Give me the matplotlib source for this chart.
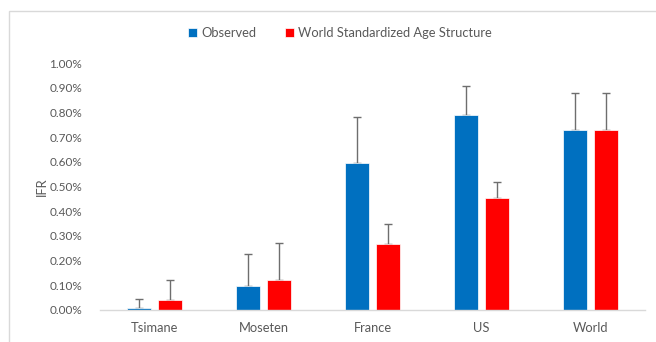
import matplotlib
matplotlib.use("Agg")
import matplotlib.pyplot as plt
from matplotlib.patches import Rectangle
import numpy as np

categories = ["Tsimane", "Moseten", "France", "US", "World"]
observed = [0.01, 0.096, 0.595, 0.79, 0.73]
observed_upper = [0.046, 0.225, 0.78, 0.907, 0.88]
standardized = [0.042, 0.123, 0.266, 0.453, 0.73]
standardized_upper = [0.12, 0.27, 0.35, 0.52, 0.88]
yticks = [0.0, 0.1, 0.2, 0.3, 0.4, 0.5, 0.6, 0.7, 0.8, 0.9, 1.0]

plt.rcParams["font.family"] = ["Lato", "DejaVu Sans"]

fig = plt.figure(figsize=(6.56, 3.42), dpi=100)
ax = fig.add_axes([100 / 656, 1 - 310 / 342, 545 / 656, 247 / 342])

# outer chart border
fig.patches.append(Rectangle((9 / 656, -0.05), 1.2, 1 - 10.5 / 342 + 0.05,
                             transform=fig.transFigure, fill=False,
                             edgecolor="#D9D9D9", linewidth=1.0))

x = np.arange(len(categories))
w = 0.22
off = 0.145
obs = np.array(observed)
std = np.array(standardized)
err_obs = np.array(observed_upper) - obs
err_std = np.array(standardized_upper) - std

ax.bar(x - off, obs, w, color="#0070C0", edgecolor="white", linewidth=0.5,
       label="Observed", zorder=2)
ax.bar(x + off, std, w, color="#FF0000", edgecolor="white", linewidth=0.5,
       label="World Standardized Age Structure", zorder=2)
ax.errorbar(x - off, obs, yerr=[np.zeros_like(obs), err_obs], fmt="none",
            ecolor="#6E6E6E", elinewidth=1.0, capsize=3, capthick=1.0, zorder=1.5)
ax.errorbar(x + off, std, yerr=[np.zeros_like(std), err_std], fmt="none",
            ecolor="#6E6E6E", elinewidth=1.0, capsize=3, capthick=1.0, zorder=1.5)

ax.set_xlim(-0.5, len(categories) - 0.5)
ax.set_ylim(0, 1.0)
ax.set_yticks(yticks)
ax.set_yticklabels([f"{v:.2f}%" for v in yticks])
ax.set_xticks(x)
ax.set_xticklabels(categories)
ax.tick_params(axis="both", length=0, colors="#595959", labelsize=8.5)
ax.tick_params(axis="x", pad=9, labelsize=9.3)
ax.tick_params(axis="y", pad=13)
for s in ["top", "right", "left"]:
    ax.spines[s].set_visible(False)
ax.spines["bottom"].set_color("#D9D9D9")
ax.spines["bottom"].set_linewidth(1.0)

ax.set_ylabel("IFR", color="#595959", fontsize=9.3, labelpad=1)

fig.legend(loc="center", bbox_to_anchor=(0.518, 1 - 33 / 342), ncol=2,
           frameon=False, fontsize=9.3, handlelength=0.7, handleheight=0.7,
           handletextpad=0.3, columnspacing=2.2, labelcolor="#595959")

fig.savefig("out.png", dpi=100)
